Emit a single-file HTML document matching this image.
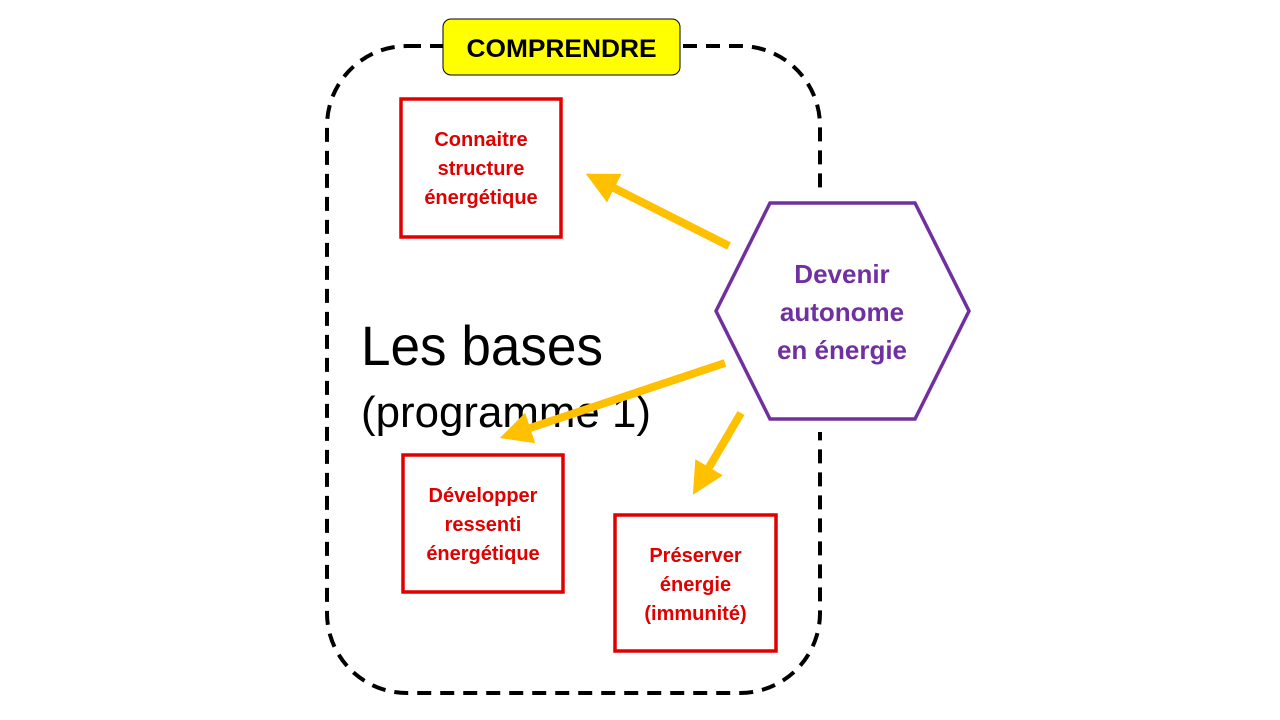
<!DOCTYPE html>
<html><head><meta charset="utf-8"><style>
html,body{margin:0;padding:0;background:#fff;}
svg{display:block;}
</style></head><body>
<svg width="1280" height="720" viewBox="0 0 1280 720" xmlns="http://www.w3.org/2000/svg" font-family="Liberation Sans, sans-serif">
<defs>
<marker id="ah" markerWidth="4" markerHeight="4" refX="2" refY="2" orient="auto" markerUnits="strokeWidth">
<path d="M0,0 L4,2 L0,4 Z" fill="#FFC000"/>
</marker>
</defs>
<rect x="327" y="46" width="493" height="647" rx="80" ry="80" fill="none" stroke="#000" stroke-width="4" stroke-dasharray="14,9"/>
<rect x="810" y="196" width="20" height="236" fill="#fff"/>
<rect x="443" y="19" width="237" height="56" rx="8" fill="#FFFF00" stroke="#000" stroke-width="1"/>
<text x="561.5" y="57" text-anchor="middle" font-size="25" font-weight="bold" textLength="190" lengthAdjust="spacingAndGlyphs">COMPRENDRE</text>

<rect x="401" y="99" width="160" height="138" fill="none" stroke="#E00000" stroke-width="3.5"/>
<g fill="#E00000" font-weight="bold" font-size="20" text-anchor="middle">
<text x="481" y="146">Connaitre</text>
<text x="481" y="175">structure</text>
<text x="481" y="204">énergétique</text>
</g>
<rect x="403" y="455" width="160" height="137" fill="none" stroke="#E00000" stroke-width="3.5"/>
<g fill="#E00000" font-weight="bold" font-size="20" text-anchor="middle">
<text x="483" y="502">Développer</text>
<text x="483" y="531">ressenti</text>
<text x="483" y="560">énergétique</text>
</g>
<rect x="615" y="515" width="161" height="136" fill="none" stroke="#E00000" stroke-width="3.5"/>
<g fill="#E00000" font-weight="bold" font-size="20" text-anchor="middle">
<text x="695.5" y="562">Préserver</text>
<text x="695.5" y="591">énergie</text>
<text x="695.5" y="620">(immunité)</text>
</g>

<text x="361" y="365" font-size="56" textLength="242" lengthAdjust="spacingAndGlyphs">Les bases</text>
<text x="361" y="427" font-size="44" textLength="290" lengthAdjust="spacingAndGlyphs">(programme 1)</text>

<g stroke="#FFC000" stroke-width="8" fill="none" marker-end="url(#ah)">
<line x1="729" y1="246" x2="600" y2="181"/>
<line x1="725" y1="363" x2="515" y2="433"/>
<line x1="741" y1="413" x2="701" y2="481"/>
</g>

<polygon points="716,311 770,203 915,203 969,311 915,419 770,419" fill="#fff" stroke="#7030A0" stroke-width="3.5"/>
<g fill="#7030A0" font-weight="bold" font-size="26" text-anchor="middle">
<text x="842" y="283">Devenir</text>
<text x="842" y="321">autonome</text>
<text x="842" y="359">en énergie</text>
</g>
</svg>
</body></html>
